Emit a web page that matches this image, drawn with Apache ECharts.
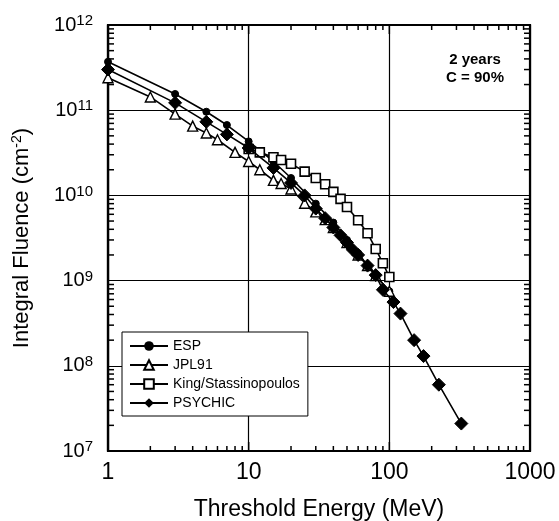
<!DOCTYPE html>
<html>
<head>
<meta charset="utf-8">
<script src="https://cdn.jsdelivr.net/npm/echarts@6/dist/echarts.min.js"></script>
<style>
html,body{margin:0;padding:0;background:#fff;}
#c{width:559px;height:521px;}
</style>
</head>
<body>
<div id="c"></div>
<script>
// ---- data (Threshold energy MeV, integral fluence cm^-2) ----
var espE   = [1, 3, 5, 7, 10, 15, 20, 30, 40, 50, 60, 70, 80, 100];
var espF   = [3.7e11, 1.55e11, 9.6e10, 6.7e10, 4.3e10, 2.5e10, 1.6e10, 8.0e9, 4.8e9, 3.0e9, 2.1e9, 1.5e9, 1.15e9, 7.5e8];

var jplE   = [1, 2, 3, 4, 5, 6, 8, 10, 12, 15, 17, 20, 25, 30, 35, 40, 50, 60, 70, 80, 100];
var jplF   = [2.4e11, 1.43e11, 9.0e10, 6.5e10, 5.4e10, 4.5e10, 3.2e10, 2.5e10, 2.0e10, 1.5e10, 1.38e10, 1.19e10, 8.1e9, 6.4e9, 5.2e9, 4.2e9, 2.8e9, 2.0e9, 1.5e9, 1.15e9, 7.5e8];

var kingE  = [10, 12, 15, 17, 20, 25, 30, 35, 40, 45, 50, 60, 70, 80, 90, 100];
var kingF  = [3.5e10, 3.2e10, 2.8e10, 2.6e10, 2.35e10, 1.9e10, 1.6e10, 1.35e10, 1.1e10, 9.1e9, 7.3e9, 5.1e9, 3.6e9, 2.35e9, 1.6e9, 1.1e9];

var psyE   = [1, 3, 5, 7, 10, 15, 20, 25, 30, 35, 40, 45, 50, 55, 60, 70, 80, 90, 107, 120, 150, 175, 225, 325];
var psyF   = [3.0e11, 1.22e11, 7.3e10, 5.2e10, 3.6e10, 2.1e10, 1.4e10, 1.0e10, 7.0e9, 5.4e9, 4.2e9, 3.4e9, 2.8e9, 2.3e9, 2.0e9, 1.5e9, 1.16e9, 7.8e8, 5.6e8, 4.1e8, 2.0e8, 1.3e8, 6.0e7, 2.1e7];

var xTickLabels = ['1', '10', '100', '1000'];
var seriesNames = ['ESP', 'JPL91', 'King/Stassinopoulos', 'PSYCHIC'];

function pairs(e, f) { return e.map(function (v, i) { return [v, f[i]]; }); }

var FONT = 'Liberation Sans, Arial, Helvetica, sans-serif';
var chart = echarts.init(document.getElementById('c'), null, { renderer: 'canvas' });

var lineStyle = { color: '#000', width: 1.6 };
var option = {
  animation: false,
  backgroundColor: '#fff',
  textStyle: { fontFamily: FONT, color: '#000' },
  grid: { left: 108, top: 25, right: 29, bottom: 70, containLabel: false, outerBoundsMode: 'none',
    show: true, borderColor: '#000', borderWidth: 2.2, backgroundColor: 'transparent' },
  xAxis: {
    type: 'log', logBase: 10, min: 1, max: 1000,
    name: 'Threshold Energy (MeV)', nameLocation: 'middle', nameGap: 47,
    nameTextStyle: { fontSize: 23, fontFamily: FONT, color: '#000' },
    axisLine: { lineStyle: { color: '#000', width: 2.2 } },
    axisTick: { show: false },
    axisLabel: { fontSize: 23, fontFamily: FONT, color: '#000', margin: 10,
      formatter: function (v) { var e = Math.round(Math.log10(v)); return xTickLabels[e]; } },
    splitLine: { show: true, lineStyle: { color: '#000', width: 1.2 } },
    minorTick: { show: false }, minorSplitLine: { show: false }
  },
  yAxis: {
    type: 'log', logBase: 10, min: 1e7, max: 1e12,
    name: 'Integral Fluence (cm{s|-2})', nameLocation: 'middle', nameGap: 74,
    nameTextStyle: { fontSize: 22, fontFamily: FONT, color: '#000',
      rich: { s: { fontSize: 14, fontFamily: FONT, color: '#000', padding: [0, 0, 10, 0] } } },
    axisLine: { lineStyle: { color: '#000', width: 2.2 } },
    axisTick: { show: false },
    axisLabel: { margin: 15, fontFamily: FONT, color: '#000',
      formatter: function (v) { var e = Math.round(Math.log10(v)); return '{b|10}{s|' + e + '}'; },
      rich: {
        b: { fontSize: 20, fontFamily: FONT, color: '#000', lineHeight: 24 },
        s: { fontSize: 15, fontFamily: FONT, color: '#000', padding: [0, 0, 8, 0] }
      } },
    splitLine: { show: true, lineStyle: { color: '#000', width: 1.2 } }
  },
  legend: {
    orient: 'vertical', left: 122, top: 332,
    backgroundColor: '#fff', borderColor: '#000', borderWidth: 1,
    padding: [7, 8, 6, 7], itemGap: 5, itemWidth: 38, itemHeight: 12,
    textStyle: { fontSize: 14, fontFamily: FONT, color: '#000' },
    data: seriesNames
  },
  series: [
    { name: seriesNames[0], type: 'line', data: pairs(espE, espF), symbol: 'circle', symbolSize: 7,
      itemStyle: { color: '#000', borderColor: '#000' }, lineStyle: lineStyle, z: 3 },
    { name: seriesNames[1], type: 'line', data: pairs(jplE, jplF), symbol: 'triangle', symbolSize: 10,
      itemStyle: { color: '#fff', borderColor: '#000', borderWidth: 1.4 }, lineStyle: lineStyle, z: 4 },
    { name: seriesNames[2], type: 'line', data: pairs(kingE, kingF), symbol: 'rect', symbolSize: 9,
      itemStyle: { color: '#fff', borderColor: '#000', borderWidth: 1.6 }, lineStyle: lineStyle, z: 5 },
    { name: seriesNames[3], type: 'line', data: pairs(psyE, psyF), symbol: 'diamond', symbolSize: 13,
      itemStyle: { color: '#000', borderColor: '#000' }, lineStyle: lineStyle, z: 6 }
  ]
};
chart.setOption(option);

// minor log ticks on all four sides (decoration only)
var g = [];
var x0 = chart.convertToPixel({ xAxisIndex: 0 }, 1), x1 = chart.convertToPixel({ xAxisIndex: 0 }, 1000);
var y0 = chart.convertToPixel({ yAxisIndex: 0 }, 1e7), y1 = chart.convertToPixel({ yAxisIndex: 0 }, 1e12);
function seg(a, b, c, d) { g.push({ type: 'line', silent: true, z: 10, shape: { x1: a, y1: b, x2: c, y2: d }, style: { stroke: '#000', lineWidth: 1.5 } }); }
[1, 10, 100].forEach(function (d) {
  for (var i = 2; i <= 9; i++) {
    var px = chart.convertToPixel({ xAxisIndex: 0 }, d * i);
    seg(px, y0, px, y0 - 5); seg(px, y1, px, y1 + 5);
  }
});
[1e7, 1e8, 1e9, 1e10, 1e11].forEach(function (d) {
  for (var i = 2; i <= 9; i++) {
    var py = chart.convertToPixel({ yAxisIndex: 0 }, d * i);
    seg(x0, py, x0 + 6, py); seg(x1, py, x1 - 6, py);
  }
});
[1, 10, 100, 1000].forEach(function (d) {
  var px = chart.convertToPixel({ xAxisIndex: 0 }, d);
  seg(px, y0, px, y0 - 9); seg(px, y1, px, y1 + 9);
});
g.push({ type: 'text', x: 475, y: 51, z: 11,
  style: { text: '2 years\nC = 90%', textAlign: 'center', textVerticalAlign: 'top', fill: '#000', font: 'bold 15px ' + FONT, lineHeight: 18 } });
chart.setOption({ graphic: g });
</script>
</body>
</html>
